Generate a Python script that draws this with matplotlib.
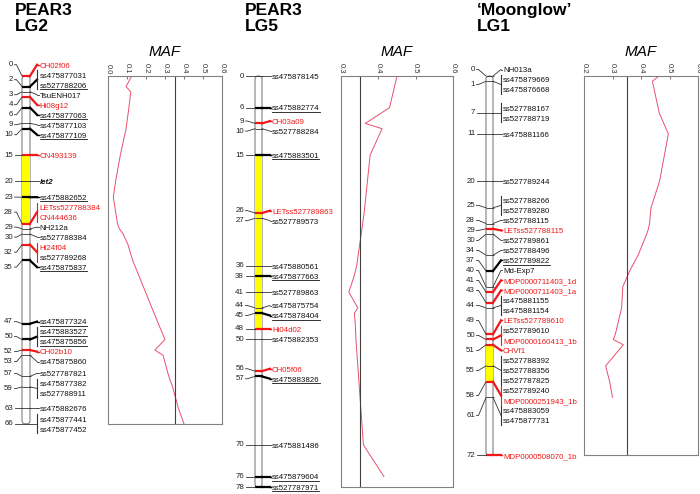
"""Linkage maps (PEAR3 LG2, PEAR3 LG5, 'Moonglow' LG1) with MAF profiles alongside."""
import matplotlib
matplotlib.use("Agg")
import matplotlib.pyplot as plt
from matplotlib.patches import FancyBboxPatch, Rectangle
import numpy as np

plt.rcParams["font.family"] = ["Liberation Sans", "DejaVu Sans"]

# ---- data -----------------------------------------------------------------
# kind: n = plain, u = underlined, r = red, b = bold italic
lg2_cm = [0, 2, 2, 3, 4, 6, 9, 10, 15, 20, 23, 28, 28, 29, 30, 32, 32, 35,
          47, 50, 50, 52, 53, 57, 59, 59, 63, 66, 66]
lg2_names = ["CH02f06", "ss475877031", "ss527788206", "TsuENH017", "Hi08g12",
             "ss475877063", "ss475877103", "ss475877109", "CN493139", "let2",
             "ss475882652", "LETss527788384", "CN444636", "NH212a", "ss527788384",
             "Hi24f04", "ss527789268", "ss475875837", "ss475877324", "ss475883527",
             "ss475875856", "CH02b10", "ss475875860", "ss527787821", "ss475877382",
             "ss527788911", "ss475882676", "ss475877441", "ss475877452"]
lg2_kind = ["r", "n", "u", "n", "r", "u", "n", "u", "r", "b", "u", "r", "r", "n", "n",
            "r", "n", "u", "u", "u", "u", "r", "n", "n", "n", "n", "n", "n", "n"]
lg2_length = 66
lg2_qtl = (15, 28)
lg2_maf_cm = [0, 2, 3, 6, 10, 15, 20, 23, 28, 29, 30, 32, 35, 47, 50, 52, 53, 57, 59, 63, 66]
lg2_maf = [0.125, 0.095, 0.12, 0.11, 0.095, 0.065, 0.04, 0.028, 0.05, 0.06, 0.08,
           0.105, 0.13, 0.265, 0.30, 0.247, 0.29, 0.32, 0.34, 0.37, 0.40]

lg5_cm = [0, 6, 9, 10, 15, 26, 27, 36, 38, 41, 44, 45, 48, 50, 56, 57, 70, 76, 78]
lg5_names = ["ss475878145", "ss475882774", "CH03a09", "ss527788284", "ss475883501",
             "LETss527789863", "ss527789573", "ss475880561", "ss475877663",
             "ss527789863", "ss475875754", "ss475878404", "Hi04d02", "ss475882353",
             "CH05f06", "ss475883826", "ss475881486", "ss475879604", "ss527787971"]
lg5_kind = ["n", "u", "r", "n", "u", "r", "n", "n", "u", "n", "n", "u", "r", "n",
            "r", "u", "n", "u", "u"]
lg5_length = 78
lg5_qtl = (15, 48)
lg5_maf_cm = [0, 6, 9, 10, 15, 26, 27, 36, 38, 41, 44, 45, 48, 50, 56, 57, 70, 76]
lg5_maf = [0.45, 0.43, 0.365, 0.41, 0.378, 0.362, 0.36, 0.342, 0.335, 0.321, 0.345,
           0.336, 0.339, 0.34, 0.346, 0.347, 0.36, 0.415]

lg1_cm = [0, 1, 1, 7, 7, 11, 20, 25, 25, 28, 29, 30, 34, 37, 40, 41, 43, 44, 44,
          49, 50, 50, 51, 55, 55, 55, 58, 58, 61, 61, 72]
lg1_names = ["NH013a", "ss475879669", "ss475876668", "ss527788167", "ss527788719",
             "ss475881166", "ss527789244", "ss527788266", "ss527789280", "ss527788115",
             "LETss527788115", "ss527789861", "ss527788496", "ss527789822", "Md-Exp7",
             "MDP0000711403_1d", "MDP0000711403_1a", "ss475881155", "ss475881154",
             "LETss527789610", "ss527789610", "MDP0000160413_1b", "CHVf1",
             "ss527788392", "ss527788356", "ss527787825", "ss527789240",
             "MDP0000251943_1b", "ss475883059", "ss475877731", "MDP0000508070_1b"]
lg1_kind = ["n", "n", "n", "n", "n", "n", "n", "n", "n", "n", "r", "n", "n", "u", "n",
            "r", "r", "n", "n", "r", "n", "r", "r", "n", "n", "n", "n", "r", "n", "n", "r"]
lg1_length = 72
lg1_qtl = (51, 58)
lg1_maf_cm = [0, 1, 7, 11, 20, 25, 28, 29, 30, 34, 37, 40, 41, 43, 44, 49, 50, 51, 55, 58, 61]
lg1_maf = [0.463, 0.44, 0.464, 0.496, 0.465, 0.435, 0.43, 0.426, 0.42, 0.39, 0.36,
           0.336, 0.335, 0.333, 0.332, 0.31, 0.303, 0.338, 0.276, 0.29, 0.30]

MAF_THRESHOLD = 0.35

# ---- layout (pixels) --------------------------------------------------------
W, H = 700, 494
Y0 = 76            # pixel row of 0 cM
PX_PER_CM = 5.27
GAP = 10.0 / PX_PER_CM
FS = 5.7
RED = "#f01818"
LINE = "#333333"

fig = plt.figure(figsize=(W / 100, H / 100), dpi=100)
ax = fig.add_axes([0, 0, 1, 1])
ax.set_xlim(0, W)
ax.set_ylim((H - Y0) / PX_PER_CM, -Y0 / PX_PER_CM)
ax.axis("off")


def spread(ideal, gap):
    """Push overlapping labels apart, keeping each cluster centred on its loci."""
    groups = [[i] for i in range(len(ideal))]
    while True:
        starts = [np.mean([ideal[i] for i in g]) - gap * (len(g) - 1) / 2 for g in groups]
        for k in range(len(groups) - 1):
            if starts[k + 1] < starts[k] + gap * len(groups[k]) - 1e-9:
                groups[k] = groups[k] + groups.pop(k + 1)
                break
        else:
            break
    out = np.zeros(len(ideal))
    for g, s in zip(groups, starts):
        for j, i in enumerate(g):
            out[i] = s + gap * j
    return out


def draw_map(cms, names, kinds, length, qtl, num_x, bar_l, bar_r, bracket_x, label_x):
    bar = FancyBboxPatch((bar_l, 0), bar_r - bar_l, length,
                         boxstyle="round,pad=0,rounding_size=3.3",
                         mutation_aspect=1 / PX_PER_CM,
                         facecolor="white", edgecolor="#808080", lw=0.8, zorder=1)
    ax.add_patch(bar)
    ax.add_patch(Rectangle((bar_l + 0.4, qtl[0]), bar_r - bar_l - 0.8, qtl[1] - qtl[0],
                           facecolor="#ffff00", edgecolor="none", zorder=1.5))

    ys = spread(np.array(cms, float), GAP)
    renderer = fig.canvas.get_renderer()
    loci = sorted(set(cms))
    for c in loci:
        idx = [i for i, v in enumerate(cms) if v == c]
        ly = np.mean(ys[idx])
        ks = [kinds[i] for i in idx]
        if "r" in ks:
            col, lw = RED, 1.6
        elif "u" in ks:
            col, lw = "black", 1.6
        else:
            col, lw = LINE, 0.6
        ax.plot([bar_l - 0.5, bar_r + 0.5], [c, c], color=col, lw=lw, zorder=3,
                solid_capstyle="butt")
        ax.plot([bar_r, bracket_x], [c, ly], color=col, lw=lw, zorder=3)
        if len(idx) > 1:
            ax.plot([bracket_x, bracket_x], [ys[idx[0]] - 0.45 * GAP, ys[idx[-1]] + 0.45 * GAP],
                    color=col if col != "black" else LINE, lw=0.8, zorder=3)
        else:
            ax.plot([bracket_x, label_x - 0.6], [ly, ly], color=col, lw=min(lw, 1.0), zorder=3)
        ax.plot([num_x + 1.5, num_x + 3.5, bar_l], [ly, ly, c], color=LINE, lw=0.6, zorder=3)
        ax.text(num_x, ly, str(c), ha="right", va="center", fontsize=FS, color="#222222")

    base = 2.85 / PX_PER_CM
    for i, name in enumerate(names):
        k = kinds[i]
        t = ax.text(label_x, ys[i] + base, name, ha="left", va="baseline", fontsize=FS,
                    color=RED if k == "r" else "#111111",
                    fontweight="bold" if k == "b" else "normal",
                    fontstyle="italic" if k == "b" else "normal")
        if k == "u":
            w = t.get_window_extent(renderer).width
            uy = ys[i] + base + 1.3 / PX_PER_CM
            ax.plot([label_x, label_x + w], [uy, uy], color="#111111", lw=0.6)


def draw_maf(left, right, length, xlim, cms, mafs):
    bottom = Y0 + length * PX_PER_CM
    a = fig.add_axes([left / W, 1 - bottom / H, (right - left) / W, length * PX_PER_CM / H])
    a.plot(mafs, cms, color="#e8506e", lw=0.7)
    a.axvline(MAF_THRESHOLD, color="#404040", lw=0.8)
    a.set_xlim(*xlim)
    a.set_ylim(length, 0)
    ticks = np.round(np.arange(xlim[0], xlim[1] + 1e-6, 0.1), 1)
    a.xaxis.tick_top()
    a.set_xticks(ticks)
    a.set_xticklabels([f"{t:.1f}" for t in ticks], rotation=270, fontsize=5.5, color="#333333")
    a.set_yticks([])
    a.tick_params(axis="x", direction="in", length=2.5, width=0.6, pad=1.5, color="#606060")
    for s in a.spines.values():
        s.set_color("#808080")
        s.set_linewidth(0.8)
    fig.text((left + right) / 2 / W, 1 - 52 / H, "MAF", fontstyle="italic", fontsize=11,
             ha="center", va="center")


draw_map(lg2_cm, lg2_names, lg2_kind, lg2_length, lg2_qtl, 13, 22, 30, 37, 39.5)
draw_map(lg5_cm, lg5_names, lg5_kind, lg5_length, lg5_qtl, 244, 255, 262, 270, 272)
draw_map(lg1_cm, lg1_names, lg1_kind, lg1_length, lg1_qtl, 475, 486, 493, 501, 503)

draw_maf(108, 222, lg2_length, (0.0, 0.6), lg2_maf_cm, lg2_maf)
draw_maf(341, 453, lg5_length, (0.3, 0.6), lg5_maf_cm, lg5_maf)
draw_maf(584, 698, lg1_length, (0.2, 0.6), lg1_maf_cm, lg1_maf)

for x, title in [(15, "PEAR3\nLG2"), (245, "PEAR3\nLG5"), (477, "\u2018Moonglow\u2019\nLG1")]:
    fig.text(x / W, 1 - 3 / H, title, fontsize=12.5, fontweight="bold", ha="left", va="top",
             linespacing=1.05)

fig.savefig("out.png", dpi=100)
